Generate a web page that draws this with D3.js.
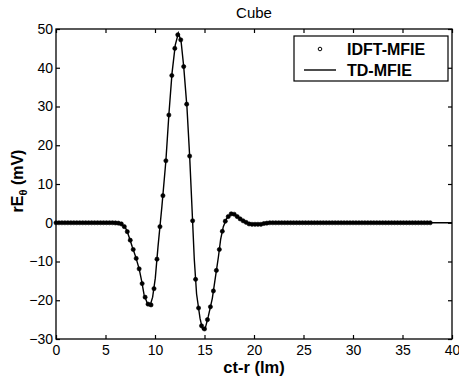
<!DOCTYPE html>
<html lang="en">
<head>
  <meta charset="utf-8">
  <script src="https://d3js.org/d3.v7.min.js"></script>
  <style>
    body { margin: 0; background: #fff; }
    text { font-family: "Liberation Sans", Arial, sans-serif; fill: #000; }
  </style>
</head>
<body>
  <svg id="chart" width="459" height="384"></svg>
  <script>
    // TD-MFIE curve (ct-r, mV)
    let tdT = [0, 5.5, 6.0, 6.5, 7.0, 7.14, 7.4, 7.7, 8.05, 8.4, 8.65, 8.89, 9.22, 9.5, 9.76, 10.03, 10.3, 10.7, 11.1,
      11.41, 11.72, 12.05, 12.36, 12.63, 12.9, 13.23, 13.5, 13.74, 13.97, 14.2, 14.55, 14.8, 15.1, 15.39, 15.79,
      16.1, 16.4, 16.63, 16.9, 17.24, 17.74, 18.25, 18.92, 19.6, 20.6, 21.5, 40];
    let tdV = [0, 0, -0.05, -0.2, -1.3, -1.9, -3.8, -6.2, -8.8, -11.9, -15, -18.5, -20.8, -21.4, -19.2, -14.3, -6.3, 4.3, 16.0,
      28.2, 38.6, 45.9, 48.9, 46.9, 40.3, 29.7, 17.2, 3.7, -9.5, -18.4, -24.7, -27.5, -27, -24.1, -19.5,
      -14.1, -8.9, -4.3, -1, 1.1, 2.4, 1.7, 0.5, -0.4, -0.4, 0, 0];

    // IDFT-MFIE samples
    let idftT = [0, 0.3, 0.6, 0.9, 1.2, 1.5, 1.8, 2.1, 2.4, 2.7, 3.0, 3.3, 3.6, 3.9, 4.2, 4.5, 4.8, 5.1, 5.4, 5.7,
      6.0, 6.3, 6.6, 6.9, 7.2, 7.5, 7.8, 8.1, 8.4, 8.7, 9.0, 9.3, 9.6, 9.9, 10.2, 10.5, 10.8, 11.1, 11.4, 11.7,
      12.0, 12.3, 12.6, 12.9, 13.2, 13.5, 13.8, 14.1, 14.4, 14.7, 15.0, 15.3, 15.6, 15.9, 16.2, 16.5, 16.8, 17.1,
      17.4, 17.7, 18.0, 18.3, 18.6, 18.9, 19.2, 19.5, 19.8, 20.1, 20.4, 20.7, 21.0, 21.3, 21.6, 21.9, 22.2, 22.5,
      22.8, 23.1, 23.4, 23.7, 24.0, 24.3, 24.6, 24.9, 25.2, 25.5, 25.8, 26.1, 26.4, 26.7, 27.0, 27.3, 27.6, 27.9,
      28.2, 28.5, 28.8, 29.1, 29.4, 29.7, 30.0, 30.3, 30.6, 30.9, 31.2, 31.5, 31.8, 32.1, 32.4, 32.7, 33.0, 33.3,
      33.6, 33.9, 34.2, 34.5, 34.8, 35.1, 35.4, 35.7, 36.0, 36.3, 36.6, 36.9, 37.2, 37.5, 37.8];
    let idftV = [0, 0, 0, 0, 0, 0, 0, 0, 0, 0, 0, 0, 0, 0, 0, 0, 0, 0, 0, 0,
      -0.05, -0.1, -0.3, -1.0, -2.3, -4.5, -6.9, -9.2, -11.9, -15.7, -19.2, -21.0, -21.2, -17.0, -9.4, -1.0, 7.0, 16.0, 27.8, 38.0,
      45.0, 48.5, 47.2, 40.3, 30.6, 17.2, 0.5, -14.6, -22.0, -26.6, -27.4, -25.0, -21.7, -17.6, -12.3, -6.9, -2.2, 0.4,
      1.6, 2.3, 2.2, 1.6, 1.0, 0.5, 0.1, -0.3, -0.4, -0.4, -0.4, -0.4, -0.2, -0.1, 0, 0, 0, 0,
      0, 0, 0, 0, 0, 0, 0, 0, 0, 0, 0, 0, 0, 0, 0, 0, 0, 0,
      0, 0, 0, 0, 0, 0, 0, 0, 0, 0, 0, 0, 0, 0, 0, 0, 0, 0,
      0, 0, 0, 0, 0, 0, 0, 0, 0, 0, 0, 0, 0, 0, 0];

    let xTicks = [0, 5, 10, 15, 20, 25, 30, 35, 40];
    let yTicks = [-30, -20, -10, 0, 10, 20, 30, 40, 50];
    let legendNames = ["IDFT-MFIE", "TD-MFIE"];

    let svg = d3.select("#chart");
    let margin = { top: 29, right: 7, bottom: 45, left: 56 };
    let plotW = 452 - margin.left;
    let plotH = 339 - margin.top;

    let x = d3.scaleLinear().domain([0, 40]).range([margin.left, margin.left + plotW]);
    let y = d3.scaleLinear().domain([-30, 50]).range([margin.top + plotH, margin.top]);

    // frame
    svg.append("rect")
      .attr("x", x(0)).attr("y", y(50))
      .attr("width", plotW).attr("height", plotH)
      .attr("fill", "none").attr("stroke", "#000").attr("stroke-width", 1.3);

    // axes with inward ticks (and mirrored ones)
    let fontSize = "14px";
    let axBottom = svg.append("g").attr("transform", "translate(0," + y(-30) + ")")
      .call(d3.axisBottom(x).tickValues(xTicks).tickSizeInner(-4).tickSizeOuter(0).tickPadding(6));
    let axTop = svg.append("g").attr("transform", "translate(0," + y(50) + ")")
      .call(d3.axisTop(x).tickValues(xTicks).tickSizeInner(-4).tickSizeOuter(0).tickFormat(""));
    let axLeft = svg.append("g").attr("transform", "translate(" + x(0) + ",0)")
      .call(d3.axisLeft(y).tickValues(yTicks).tickSizeInner(-4).tickSizeOuter(0).tickPadding(3));
    let axRight = svg.append("g").attr("transform", "translate(" + x(40) + ",0)")
      .call(d3.axisRight(y).tickValues(yTicks).tickSizeInner(-4).tickSizeOuter(0).tickFormat(""));

    [axBottom, axTop, axLeft, axRight].forEach(g => {
      g.select(".domain").remove();
      g.selectAll("line").attr("stroke", "#000").attr("stroke-width", 1.2);
      g.selectAll("text").style("font-size", fontSize).style("font-family", "Liberation Sans, Arial, sans-serif");
    });

    // TD-MFIE line
    let line = d3.line().x((d, i) => x(tdT[i])).y((d, i) => y(tdV[i]));
    svg.append("path")
      .attr("d", line(tdV))
      .attr("fill", "none").attr("stroke", "#000").attr("stroke-width", 1.4);

    // IDFT-MFIE markers
    svg.append("g").selectAll("circle").data(idftV)
      .enter()
      .append("circle")
      .attr("cx", (d, i) => x(idftT[i]))
      .attr("cy", d => y(d))
      .attr("r", 2.1)
      .attr("fill", "#000")
      .attr("stroke", "#000")
      .attr("stroke-width", 0.6);

    // title and axis labels
    svg.append("text")
      .attr("x", (x(0) + x(40)) / 2).attr("y", 18)
      .attr("text-anchor", "middle")
      .style("font-size", "15px")
      .text("Cube");

    svg.append("text")
      .attr("x", (x(0) + x(40)) / 2).attr("y", 373)
      .attr("text-anchor", "middle")
      .style("font-size", "16.5px").style("font-weight", "bold")
      .text("ct-r (lm)");

    let yl = svg.append("text")
      .attr("transform", "translate(23,181) rotate(-90)")
      .attr("text-anchor", "middle")
      .style("font-size", "16px").style("font-weight", "bold");
    yl.append("tspan").text("rE");
    yl.append("tspan").attr("dy", 4).style("font-size", "11px").text("θ");
    yl.append("tspan").attr("dy", -4).text(" (mV)");

    // legend
    let lg = svg.append("g");
    lg.append("rect")
      .attr("x", 294).attr("y", 36).attr("width", 154).attr("height", 45)
      .attr("fill", "#fff").attr("stroke", "#000").attr("stroke-width", 1.2);
    lg.append("circle")
      .attr("cx", 320).attr("cy", 49).attr("r", 1.8)
      .attr("fill", "none").attr("stroke", "#000").attr("stroke-width", 1);
    lg.append("line")
      .attr("x1", 304).attr("x2", 336).attr("y1", 70).attr("y2", 70)
      .attr("stroke", "#000").attr("stroke-width", 1.4);
    lg.selectAll("text.leg").data(legendNames)
      .enter()
      .append("text")
      .attr("class", "leg")
      .attr("x", 347)
      .attr("y", (d, i) => 55 + i * 21)
      .style("font-size", "16px").style("font-weight", "bold")
      .text(d => d);
  </script>
</body>
</html>
